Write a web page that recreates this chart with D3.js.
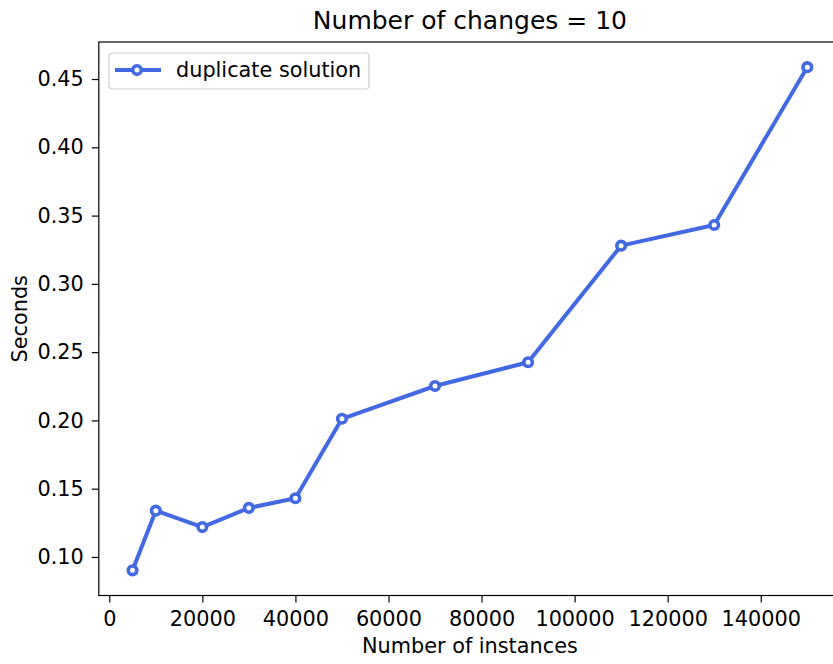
<!DOCTYPE html>
<html>
<head>
<meta charset="utf-8">
<title>Number of changes = 10</title>
<style>
body { margin: 0; background: #fff; }
text { font-family: "DejaVu Sans", sans-serif; fill: #000; }
</style>
</head>
<body>
<script src="https://d3js.org/d3.v7.min.js"></script>
<script>
// dane
var instances = [5000, 10000, 20000, 30000, 40000, 50000, 70000, 90000, 110000, 130000, 150000];
var seconds = [0.0902, 0.1339, 0.1219, 0.1359, 0.1430, 0.2012, 0.2252, 0.2426, 0.3280, 0.3431, 0.4587];
var xTicks = [0, 20000, 40000, 60000, 80000, 100000, 120000, 140000];
var yTicks = [0.10, 0.15, 0.20, 0.25, 0.30, 0.35, 0.40, 0.45];
var title = "Number of changes = 10";
var seriesName = "duplicate solution";

var width = 833, height = 664;
var mLeft = 98.8, mRight = 841, mTop = 42, mBottom = 595.5; // prawa krawedz ucieta jak w oryginale
var color = "#4169e1";
var fs = 20.8; // rozmiar czcionki osi

var punkty = instances.map(function(d, i) { return {x: d, y: seconds[i]}; });

// marginesy 5% jak w matplotlib
var xr = d3.extent(instances), yr = d3.extent(seconds);
var xm = (xr[1] - xr[0]) * 0.05, ym = (yr[1] - yr[0]) * 0.05;
var x = d3.scaleLinear().domain([xr[0] - xm, xr[1] + xm]).range([mLeft, mRight]);
var y = d3.scaleLinear().domain([yr[0] - ym, yr[1] + ym]).range([mBottom, mTop]);

var svg = d3.select('body').append('svg')
  .attr('width', width)
  .attr('height', height);

// osie
var xAxis = svg.append('g')
  .attr('transform', 'translate(0,' + mBottom + ')')
  .call(d3.axisBottom(x).tickValues(xTicks).tickFormat(d3.format('d')).tickSize(7).tickPadding(8.5));
var yAxis = svg.append('g')
  .attr('transform', 'translate(' + mLeft + ',0)')
  .call(d3.axisLeft(y).tickValues(yTicks).tickFormat(d3.format('.2f')).tickSize(7).tickPadding(8));
[xAxis, yAxis].forEach(function(a) {
  a.select('.domain').remove();
  a.selectAll('line').attr('stroke', '#000').attr('stroke-width', 1.2);
  a.selectAll('text').style('font-size', fs + 'px').attr('fill', '#000');
});

// ramka
svg.append('rect')
  .attr('x', mLeft).attr('y', mTop)
  .attr('width', mRight - mLeft).attr('height', mBottom - mTop)
  .attr('fill', 'none').attr('stroke', '#000').attr('stroke-width', 1.2);

// linia
var linia = d3.line().x(function(d) { return x(d.x); }).y(function(d) { return y(d.y); });
svg.append('path')
  .datum(punkty)
  .attr('d', linia)
  .attr('fill', 'none')
  .attr('stroke', color)
  .attr('stroke-width', 4)
  .attr('stroke-linejoin', 'round');

svg.selectAll('circle.pkt')
  .data(punkty)
  .enter()
  .append('circle')
  .attr('class', 'pkt')
  .attr('cx', function(d) { return x(d.x); })
  .attr('cy', function(d) { return y(d.y); })
  .attr('r', 4.3)
  .attr('fill', '#fff')
  .attr('stroke', color)
  .attr('stroke-width', 3.6);

// tytul i etykiety
svg.append('text')
  .attr('x', (mLeft + mRight) / 2).attr('y', 29)
  .attr('text-anchor', 'middle')
  .style('font-size', '25px')
  .text(title);
svg.append('text')
  .attr('x', (mLeft + mRight) / 2).attr('y', 653)
  .attr('text-anchor', 'middle')
  .style('font-size', fs + 'px')
  .text('Number of instances');
svg.append('text')
  .attr('transform', 'translate(27,' + (mTop + mBottom) / 2 + ') rotate(-90)')
  .attr('text-anchor', 'middle')
  .style('font-size', fs + 'px')
  .text('Seconds');

// legenda
var leg = svg.append('g').attr('transform', 'translate(109,53)');
leg.append('rect')
  .attr('width', 260).attr('height', 36).attr('rx', 3.5)
  .attr('fill', '#fff').attr('fill-opacity', 0.8)
  .attr('stroke', '#cccccc').attr('stroke-width', 1.2);
leg.append('line')
  .attr('x1', 6).attr('x2', 52).attr('y1', 17).attr('y2', 17)
  .attr('stroke', color).attr('stroke-width', 4);
leg.append('circle')
  .attr('cx', 28).attr('cy', 17).attr('r', 4.3)
  .attr('fill', '#fff').attr('stroke', color).attr('stroke-width', 3.6);
leg.append('text')
  .attr('x', 67).attr('y', 24)
  .style('font-size', fs + 'px')
  .text(seriesName);
</script>
</body>
</html>
